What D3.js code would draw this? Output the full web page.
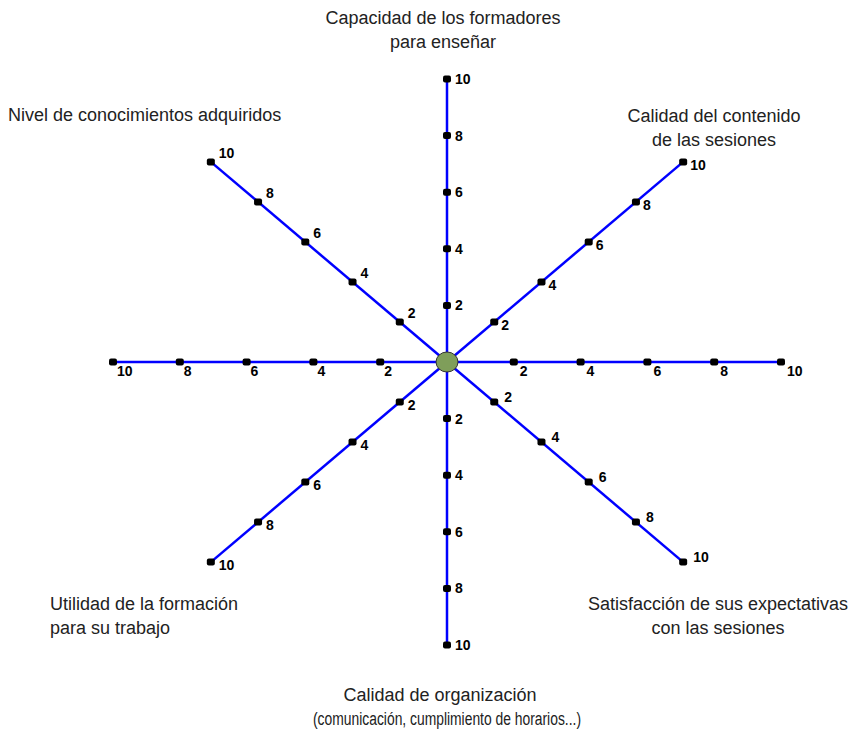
<html>
<head>
    <meta charset="utf-8">
    <title>Radar de evaluación</title>
    <script src="https://d3js.org/d3.v7.min.js"></script>
    <style>
        body { margin: 0; background: #fff; }
    </style>
</head>
<body>
    <svg id="chart" width="855" height="736"></svg>

    <script>
    // Ejes (angulo en grados, 0 = derecha, sentido antihorario)
    const axisAngles = [90, 45, 0, -45, -90, -135, 180, 135];
    const tickValues = [2, 4, 6, 8, 10];
    const tickLabels = ["2", "4", "6", "8", "10"];
    const titles = [
        { lines: ["Capacidad de los formadores", "para enseñar"], x: 443, y: 24, anchor: "middle" },
        { lines: ["Nivel de conocimientos adquiridos"], x: 8, y: 121, anchor: "start" },
        { lines: ["Calidad del contenido", "de las sesiones"], x: 714, y: 122, anchor: "middle" },
        { lines: ["Utilidad de la formación", "para su trabajo"], x: 50, y: 610, anchor: "start" },
        { lines: ["Satisfacción de sus expectativas", "con las sesiones"], x: 718, y: 610, anchor: "middle" },
        { lines: ["Calidad de organización", "(comunicación, cumplimiento de horarios...)"], x: 440, y: 701, anchor: "middle", fit: 268 }
    ];

    const svg = d3.select('#chart');
    const cx = 447, cy = 362;

    // escalas separadas en x e y (el grafico es eliptico)
    const xScale = d3.scaleLinear().domain([-10, 10]).range([cx - 334, cx + 334]);
    const yScale = d3.scaleLinear().domain([-10, 10]).range([cy + 283, cy - 283]);

    // desplazamiento de la etiqueta de cada eje (dx, dy)
    const labelOffset = {
        "90": [8, 5], "45": [7, 8], "0": [6, 14], "-45": [10, 0],
        "-90": [8, 5], "-135": [8, 8], "180": [4, 14], "135": [8, -4]
    };

    const pt = (a, v) => {
        const r = a * Math.PI / 180;
        return [xScale(v * Math.cos(r)), yScale(v * Math.sin(r))];
    };

    const axes = svg.selectAll('g.axis')
        .data(axisAngles)
        .enter()
        .append('g')
        .attr('class', 'axis');

    axes.append('line')
        .attr('x1', xScale(0))
        .attr('y1', yScale(0))
        .attr('x2', d => pt(d, 10)[0])
        .attr('y2', d => pt(d, 10)[1])
        .attr('stroke', '#0000ff')
        .attr('stroke-width', 2.5);

    axes.each(function (a) {
        const g = d3.select(this);
        tickValues.forEach((v, i) => {
            const [x, y] = pt(a, v);
            g.append('rect')
                .attr('x', x - 4)
                .attr('y', y - 3.5)
                .attr('width', 8)
                .attr('height', 7)
                .attr('rx', 2)
                .attr('fill', '#000');
            const off = labelOffset[String(a)];
            g.append('text')
                .attr('x', x + off[0])
                .attr('y', y + off[1])
                .attr('font-family', 'Liberation Sans, Arial, sans-serif')
                .attr('font-weight', 'bold')
                .attr('font-size', 14)
                .attr('fill', '#000')
                .text(tickLabels[i]);
        });
    });

    // circulo central
    svg.append('ellipse')
        .attr('cx', xScale(0))
        .attr('cy', yScale(0))
        .attr('rx', 11)
        .attr('ry', 10)
        .attr('fill', '#7f9e5a')
        .attr('stroke', '#333')
        .attr('stroke-width', 1);

    // titulos de los ejes
    titles.forEach(t => {
        const txt = svg.append('text')
            .attr('x', t.x)
            .attr('y', t.y)
            .attr('text-anchor', t.anchor)
            .attr('font-family', 'Liberation Sans, Arial, sans-serif')
            .attr('font-size', 18)
            .attr('fill', '#222');
        t.lines.forEach((l, i) => {
            const ts = txt.append('tspan')
                .attr('x', i === 1 && t.fit ? 447 : t.x)
                .attr('dy', i === 0 ? 0 : 24)
                .text(l);
            // la segunda linea del titulo inferior es mas estrecha en el original
            if (i === 1 && t.fit) {
                ts.attr('textLength', t.fit).attr('lengthAdjust', 'spacingAndGlyphs');
            }
        });
    });
    </script>
</body>
</html>
